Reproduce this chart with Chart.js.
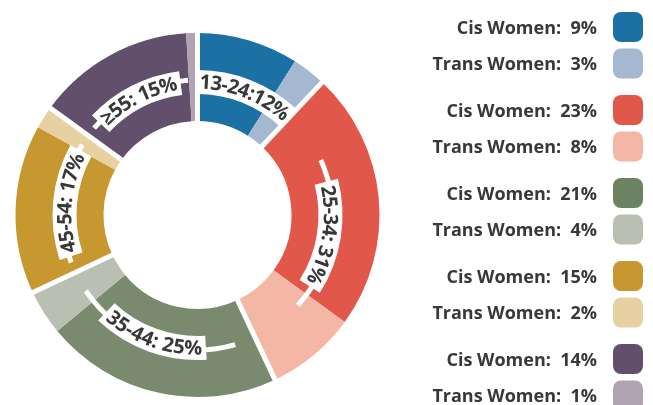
<!DOCTYPE html>
<html>
<head>
<meta charset="utf-8">
<title>Women by age group</title>
<script src="https://cdn.jsdelivr.net/npm/chart.js@4.4.1/dist/chart.umd.min.js"></script>
<style>
  html, body { margin: 0; padding: 0; background: #fff; }
  #wrap { position: relative; width: 653px; height: 405px; }
</style>
</head>
<body>
<div id="wrap"><canvas id="ageChart" width="653" height="405"></canvas></div>
<script>
// data
const ageGroups = ['13-24', '25-34', '35-44', '45-54', '≥55'];
const groupTotals = [12, 31, 25, 17, 15];
const cisWomen = [9, 23, 21, 15, 14];
const transWomen = [3, 8, 4, 2, 1];
const kinds = ['Cis Women', 'Trans Women'];

const cisColors = ['#1b71a3', '#e1574a', '#798a6f', '#c6982f', '#624f6c'];
const transColors = ['#a4b8d2', '#f4b6a5', '#b9c0b1', '#e7d0a1', '#b2a3b2'];
const legendColors = ['#1b71a3', '#e1574a', '#6d8261', '#c6982f', '#624f6c'];

// ring labels, first one has no space after the colon in the original
const ringLabels = ageGroups.map((g, i) => g + (i === 0 ? ':' : ': ') + groupTotals[i] + '%');
// half length (deg) of the thin white guide line behind each ring label
const guideHalfSpan = [0, 33, 36, 26, 23];

const sliceValues = [];
const sliceColors = [];
ageGroups.forEach((g, i) => {
  sliceValues.push(cisWomen[i], transWomen[i]);
  sliceColors.push(cisColors[i], transColors[i]);
});

const TEXT = '#383838';
const FONT = '"Open Sans", sans-serif';

// white gaps between age groups + curved labels on the ring
const ringDecor = {
  id: 'ringDecor',
  afterDatasetsDraw(chart) {
    const ctx = chart.ctx;
    const arcs = chart.getDatasetMeta(0).data;
    const cx = arcs[0].x, cy = arcs[0].y;
    const R = arcs[0].outerRadius, r0 = arcs[0].innerRadius;
    ctx.save();

    // separators
    ctx.strokeStyle = '#fff';
    ctx.lineWidth = 5;
    ageGroups.forEach((g, i) => {
      const a = arcs[2 * i + 1].endAngle;
      ctx.beginPath();
      ctx.moveTo(cx + (r0 - 3) * Math.cos(a), cy + (r0 - 3) * Math.sin(a));
      ctx.lineTo(cx + (R + 3) * Math.cos(a), cy + (R + 3) * Math.sin(a));
      ctx.stroke();
    });

    ctx.font = 'bold 20px ' + FONT;
    ctx.textAlign = 'center';
    ctx.textBaseline = 'middle';
    const textR = 133;

    ageGroups.forEach((g, i) => {
      const a0 = arcs[2 * i].startAngle, a1 = arcs[2 * i + 1].endAngle;
      const mid = (a0 + a1) / 2;
      const flip = Math.sin(mid) > 0.5; // bottom label reads left to right
      const text = ringLabels[i];
      const widths = [...text].map(ch => ctx.measureText(ch).width * 0.97);
      const total = widths.reduce((s, w) => s + w, 0);
      const span = total / textR;

      // thin guide line
      if (guideHalfSpan[i] > 0) {
        const h = guideHalfSpan[i] * Math.PI / 180;
        ctx.strokeStyle = '#fff';
        ctx.lineWidth = 5;
        ctx.beginPath();
        ctx.arc(cx, cy, 135, mid - h, mid + h);
        ctx.stroke();
      }

      // label box
      const pad = 4 / textR;
      ctx.strokeStyle = '#fff';
      ctx.lineWidth = 24;
      ctx.beginPath();
      ctx.arc(cx, cy, textR, mid - span / 2 - pad, mid + span / 2 + pad);
      ctx.stroke();

      // letters
      ctx.fillStyle = TEXT;
      let run = 0;
      [...text].forEach((ch, k) => {
        const off = (run + widths[k] / 2) / textR;
        const ang = flip ? mid + span / 2 - off : mid - span / 2 + off;
        ctx.save();
        ctx.translate(cx + textR * Math.cos(ang), cy + textR * Math.sin(ang));
        ctx.rotate(flip ? ang - Math.PI / 2 : ang + Math.PI / 2);
        ctx.fillText(ch, 0, 1);
        ctx.restore();
        run += widths[k];
      });
    });
    ctx.restore();
  }
};

// legend on the right, grouped in pairs
const sideLegend = {
  id: 'sideLegend',
  afterDraw(chart) {
    const ctx = chart.ctx;
    ctx.save();
    ctx.font = 'bold 18px ' + FONT;
    ctx.textAlign = 'right';
    ctx.textBaseline = 'alphabetic';
    ageGroups.forEach((g, i) => {
      [cisWomen[i], transWomen[i]].forEach((v, j) => {
        const yc = 27 + i * 83 + j * 36.5;
        ctx.fillStyle = TEXT;
        ctx.fillText(kinds[j] + ':  ' + v + '%', 597, yc + 6.5);
        ctx.fillStyle = j === 0 ? legendColors[i] : transColors[i];
        ctx.beginPath();
        ctx.roundRect(613, yc - 15, 30, 30, 8);
        ctx.fill();
      });
    });
    ctx.restore();
  }
};

new Chart(document.getElementById('ageChart'), {
  type: 'doughnut',
  data: {
    labels: ageGroups.flatMap(g => kinds.map(k => g + ' ' + k)),
    datasets: [{
      data: sliceValues,
      backgroundColor: sliceColors,
      borderWidth: 0,
      offset: 0,
      hoverOffset: 0
    }]
  },
  options: {
    responsive: false,
    animation: false,
    devicePixelRatio: 1,
    radius: 182,
    cutout: 94,
    layout: { padding: { left: 15, top: 33, bottom: 8, right: 273 } },
    plugins: {
      legend: { display: false },
      tooltip: { enabled: false }
    }
  },
  plugins: [ringDecor, sideLegend]
});
</script>
</body>
</html>
